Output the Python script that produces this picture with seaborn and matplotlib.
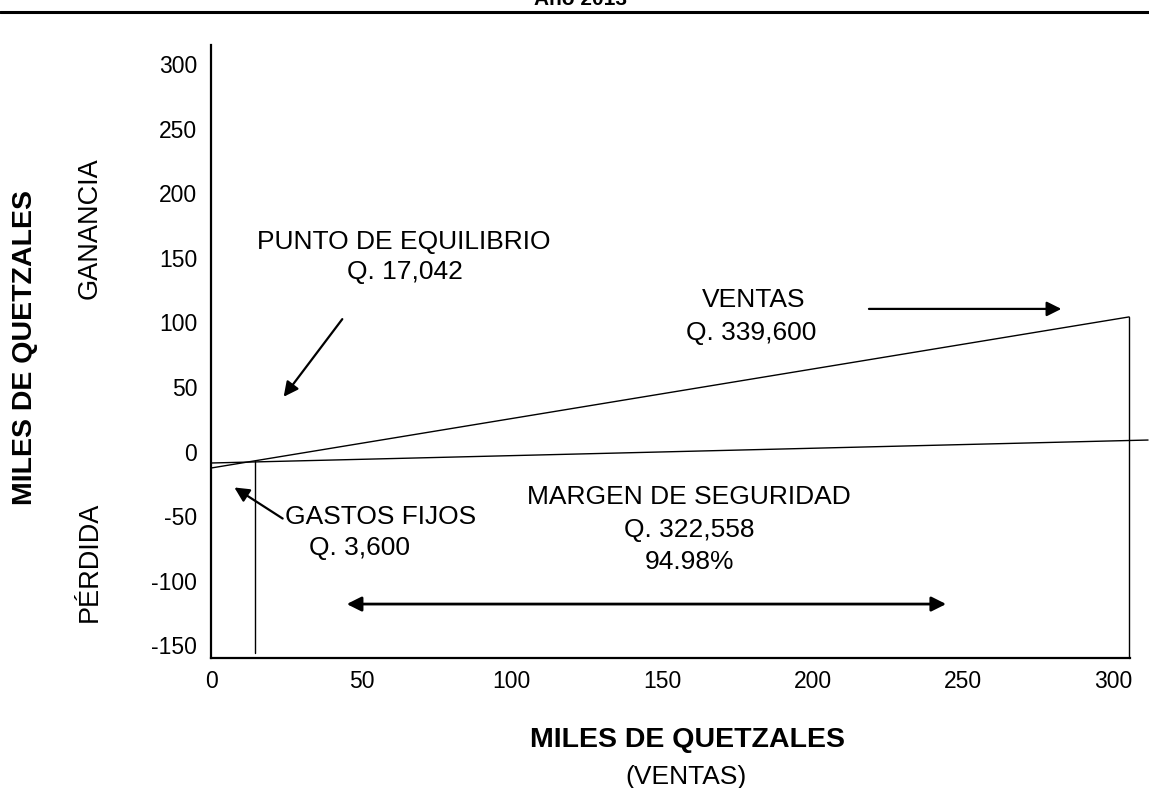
import pandas as pd
import matplotlib
matplotlib.use("Agg")
import matplotlib.pyplot as plt
import seaborn as sns

# Values (miles de quetzales)
x_ticks = [0, 50, 100, 150, 200, 250, 300]
y_ticks = [300, 250, 200, 150, 100, 50, 0, -50, -100, -150]

ventas_x = [0, 305.2]
ventas_y = [-12.8, 104.3]

gastos_x = [0, 311.5]
gastos_y = [-8.9, 8.9]

equilibrio_x = [14.6, 14.6]
equilibrio_y = [-7.4, -156.2]

tope_x = [305.2, 305.2]
tope_y = [104.3, -160]

sns.set_theme(style="white")
plt.rcParams["font.family"] = ["Liberation Sans", "DejaVu Sans"]
plt.rcParams["text.color"] = "black"
plt.rcParams["xtick.color"] = "black"
plt.rcParams["ytick.color"] = "black"

fig = plt.figure(figsize=(11.49, 7.88), dpi=100)
ax = fig.add_axes([211 / 1149, 1 - 658 / 788, (1130 - 211) / 1149, (658 - 45) / 788])

lines = pd.concat([
    pd.DataFrame({"x": ventas_x, "y": ventas_y, "serie": "ventas"}),
    pd.DataFrame({"x": gastos_x, "y": gastos_y, "serie": "gastos"}),
    pd.DataFrame({"x": equilibrio_x, "y": equilibrio_y, "serie": "equilibrio"}),
    pd.DataFrame({"x": tope_x, "y": tope_y, "serie": "tope"}),
])
for name, grp in lines.groupby("serie", sort=False):
    sns.lineplot(data=grp, x="x", y="y", estimator=None, sort=False,
                 color="black", linewidth=1.0, clip_on=False, ax=ax)

ax.set_xlim(0, 305.5)
ax.set_ylim(-160, 315)
ax.set_xticks(x_ticks)
ax.set_yticks(y_ticks)
ax.set_xticklabels([str(v) for v in x_ticks])
ax.set_yticklabels([str(v) for v in y_ticks])
ax.tick_params(axis="both", length=0, labelsize=16.5, colors="black")
ax.tick_params(axis="x", pad=9)
ax.tick_params(axis="y", pad=10)
ax.set_xlabel("")
ax.set_ylabel("")
for side in ["top", "right"]:
    ax.spines[side].set_visible(False)
for side in ["left", "bottom"]:
    ax.spines[side].set_color("black")
    ax.spines[side].set_linewidth(1.6)

# annotations
fs = 19
ax.text(64.2, 162.4, "PUNTO DE EQUILIBRIO", ha="center", va="center", fontsize=fs)
ax.text(64.5, 139.1, "Q. 17,042", ha="center", va="center", fontsize=fs)
ax.annotate("", xy=(23.6, 40.7), xytext=(44.2, 104.3),
            arrowprops=dict(arrowstyle="-|>", color="black", lw=1.6, mutation_scale=22))

ax.text(180.5, 117.4, "VENTAS", ha="center", va="center", fontsize=fs)
ax.text(179.5, 91.9, "Q. 339,600", ha="center", va="center", fontsize=fs)
ax.annotate("", xy=(283.6, 110.5), xytext=(217.8, 110.5),
            arrowprops=dict(arrowstyle="-|>", color="black", lw=1.6, mutation_scale=22))

ax.text(24.6, -50.8, "GASTOS FIJOS", ha="left", va="center", fontsize=fs)
ax.text(49.2, -74.8, "Q. 3,600", ha="center", va="center", fontsize=fs)
ax.annotate("", xy=(7.0, -26.7), xytext=(24.6, -53.1),
            arrowprops=dict(arrowstyle="-|>", color="black", lw=1.6, mutation_scale=22))

ax.text(158.9, -35.3, "MARGEN DE SEGURIDAD", ha="center", va="center", fontsize=fs)
ax.text(158.9, -60.9, "Q. 322,558", ha="center", va="center", fontsize=fs)
ax.text(158.9, -85.7, "94.98%", ha="center", va="center", fontsize=fs)
ax.annotate("", xy=(245.3, -118.2), xytext=(44.2, -118.2),
            arrowprops=dict(arrowstyle="<|-|>", color="black", lw=2.0, mutation_scale=22))

# axis titles
fig.text(25 / 1149, 1 - 347 / 788, "MILES DE QUETZALES", rotation=90, ha="center",
         va="center", fontsize=20.5, fontweight="bold")
fig.text(90 / 1149, 1 - 228 / 788, "GANANCIA", rotation=90, ha="center", va="center", fontsize=19.5)
fig.text(90 / 1149, 1 - 562 / 788, "PÉRDIDA", rotation=90, ha="center", va="center", fontsize=19.5)
fig.text(688 / 1149, 1 - 740 / 788, "MILES DE QUETZALES", ha="center", va="center",
         fontsize=20.5, fontweight="bold")
fig.text(686 / 1149, 1 - 777 / 788, "(VENTAS)", ha="center", va="center", fontsize=19)

# title (cut off at the top in the reference) and rule
fig.text(580 / 1149, 1 - 5 / 788, "Año 2013", ha="center", va="baseline",
         fontsize=15, fontweight="bold")
fig.add_artist(plt.Line2D([0, 1], [1 - 11.5 / 788, 1 - 11.5 / 788], color="black", lw=2.2,
                          transform=fig.transFigure))

fig.savefig("out.png", dpi=100)
